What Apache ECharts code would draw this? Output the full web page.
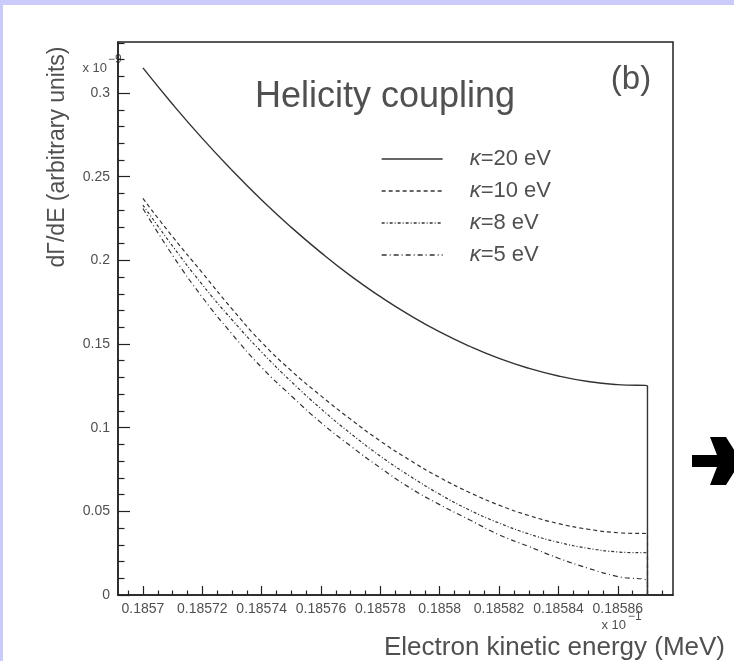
<!DOCTYPE html>
<html>
<head>
<meta charset="utf-8">
<script src="https://cdn.jsdelivr.net/npm/echarts@6/dist/echarts.min.js"></script>
<style>
  html, body { margin: 0; padding: 0; background: #ffffff; }
  #chart { width: 734px; height: 661px; }
</style>
</head>
<body>
<div id="chart"></div>
<script>
// Electron kinetic energy (MeV, shown in units of 10^-1)
const energy = [0.18570, 0.18571, 0.18572, 0.18573, 0.18574, 0.18575, 0.18576, 0.18577, 0.18578,
                0.18579, 0.18580, 0.18581, 0.18582, 0.18583, 0.18584, 0.18585, 0.18586, 0.18587];

// dΓ/dE (arbitrary units, x 10^-9) for each coupling strength κ
const kappa20 = [0.315, 0.2933, 0.2729, 0.2539, 0.2361, 0.2197, 0.2046, 0.1907, 0.1783,
                 0.1671, 0.1572, 0.1487, 0.1414, 0.1355, 0.1309, 0.1276, 0.1257, 0.125];
const kappa10 = [0.237, 0.2141, 0.1926, 0.171, 0.151, 0.134, 0.119, 0.105, 0.0920,
                 0.0805, 0.0702, 0.0613, 0.0537, 0.0475, 0.0427, 0.0393, 0.0372, 0.0365];
const kappa8  = [0.233, 0.2085, 0.1855, 0.1645, 0.1452, 0.1275, 0.1113, 0.0965, 0.0830,
                 0.0710, 0.0602, 0.0508, 0.0430, 0.0365, 0.0315, 0.0279, 0.0257, 0.025];
const kappa5  = [0.231, 0.203, 0.178, 0.156, 0.136, 0.119, 0.103, 0.089, 0.076,
                 0.064, 0.054, 0.045, 0.036, 0.029, 0.022, 0.016, 0.011, 0.0078];

const seriesNames = ['κ=20 eV', 'κ=10 eV', 'κ=8 eV', 'κ=5 eV'];

// Axis tick labels
const xTickLabels = ['0.1857', '0.18572', '0.18574', '0.18576', '0.18578',
                     '0.1858', '0.18582', '0.18584', '0.18586'];
const yTickLabels = ['0', '0.05', '0.1', '0.15', '0.2', '0.25', '0.3'];

const X_MIN = 0.1856916, X_MAX = 0.1858786;
const Y_MIN = 0, Y_MAX = 0.3305;

const FONT = 'Liberation Sans, Helvetica, Arial, sans-serif';
const TEXT = '#505050';
const INK = '#222222';

const xMajor = xTickLabels.map(Number);
const yMajor = yTickLabels.map(Number);

// minor ticks: 4 subdivisions on x, 5 on y, across the whole axis range
function minorTicks(major, parts, lo, hi) {
  const step = (major[1] - major[0]) / parts;
  const out = [];
  for (let i = -parts * 2; i <= major.length * parts + parts * 2; i++) {
    const v = major[0] + i * step;
    if (v < lo - 1e-12 || v > hi + 1e-12) continue;
    if (i % parts === 0) continue;
    out.push(+v.toFixed(9));
  }
  return out;
}
const xMinor = minorTicks(xMajor, 4, X_MIN, X_MAX);
const yMinor = minorTicks(yMajor, 5, Y_MIN, Y_MAX);

function labelFor(values, labels) {
  return function (v) {
    let best = 0;
    for (let i = 1; i < values.length; i++) {
      if (Math.abs(values[i] - v) < Math.abs(values[best] - v)) best = i;
    }
    return Math.abs(values[best] - v) < 1e-9 ? labels[best] : '';
  };
}

// each curve ends with a drop to zero at the endpoint energy
function curve(vals) {
  const pts = energy.map((e, i) => [e, vals[i]]);
  pts.push([energy[energy.length - 1], 0]);
  return pts;
}

const lineStyles = [
  { color: '#333333', width: 1.4, type: 'solid' },
  { color: '#333333', width: 1.2, type: [4, 3] },
  { color: '#333333', width: 1.2, type: [3, 2, 1, 2] },
  { color: '#333333', width: 1.2, type: [5, 3, 1, 3] }
];
const curves = [kappa20, kappa10, kappa8, kappa5];

const chart = echarts.init(document.getElementById('chart'), null, { renderer: 'canvas' });

const tickStyle = { color: INK, width: 1.2 };

chart.setOption({
  animation: false,
  backgroundColor: '#ffffff',
  grid: {
    left: 118, top: 42, width: 555, height: 553,
    show: true, borderColor: INK, borderWidth: 1.5, backgroundColor: 'transparent'
  },
  xAxis: [
    {
      type: 'value', min: X_MIN, max: X_MAX, position: 'bottom',
      axisLine: { show: true, lineStyle: { color: INK, width: 1.5 } },
      axisTick: { show: true, inside: true, length: 9, customValues: xMajor, lineStyle: tickStyle },
      axisLabel: {
        show: true, customValues: xMajor, margin: 7,
        formatter: labelFor(xMajor, xTickLabels),
        color: TEXT, fontSize: 14, fontFamily: FONT
      },
      splitLine: { show: false }
    },
    {
      type: 'value', min: X_MIN, max: X_MAX, position: 'bottom', offset: 0,
      axisLine: { show: false },
      axisTick: { show: true, inside: true, length: 4.5, customValues: xMinor, lineStyle: tickStyle },
      axisLabel: { show: false },
      splitLine: { show: false }
    }
  ],
  yAxis: [
    {
      type: 'value', min: Y_MIN, max: Y_MAX, position: 'left',
      axisLine: { show: true, lineStyle: { color: INK, width: 1.5 } },
      axisTick: { show: true, inside: true, length: 12, customValues: yMajor, lineStyle: tickStyle },
      axisLabel: {
        show: true, customValues: yMajor, margin: 8,
        formatter: labelFor(yMajor, yTickLabels),
        color: TEXT, fontSize: 14, fontFamily: FONT
      },
      splitLine: { show: false }
    },
    {
      type: 'value', min: Y_MIN, max: Y_MAX, position: 'left', offset: 0,
      axisLine: { show: false },
      axisTick: { show: true, inside: true, length: 6.5, customValues: yMinor, lineStyle: tickStyle },
      axisLabel: { show: false },
      splitLine: { show: false }
    }
  ],
  legend: {
    orient: 'vertical',
    left: 381, top: 147, padding: 0,
    itemWidth: 61, itemHeight: 14, itemGap: 8,
    data: seriesNames,
    selectedMode: false,
    lineStyle: { width: 1.3 },
    itemStyle: { color: 'rgba(0,0,0,0)', borderColor: 'rgba(0,0,0,0)', borderWidth: 0 },
    formatter: name => name.replace('κ', '{k|κ}'),
    textStyle: {
      color: TEXT, fontSize: 22, fontFamily: FONT, lineHeight: 24,
      padding: [0, 0, 0, 22],
      rich: { k: { fontStyle: 'italic', fontSize: 22, color: TEXT, fontFamily: FONT } }
    }
  },
  series: curves.map((vals, i) => ({
    name: seriesNames[i],
    type: 'line',
    xAxisIndex: 0, yAxisIndex: 0,
    data: curve(vals),
    smooth: true,
    showSymbol: false, symbol: 'none',
    lineStyle: lineStyles[i],
    itemStyle: { color: '#333333' },
    emphasis: { disabled: true }
  })),
  graphic: [
    // slide border
    { type: 'rect', left: 0, top: 0, shape: { width: 734, height: 5 }, style: { fill: '#cbcbfb' }, silent: true },
    { type: 'rect', left: 0, top: 0, shape: { width: 3, height: 661 }, style: { fill: '#cbcbfb' }, silent: true },
    // panel title and tag
    { type: 'text', x: 385, y: 97, silent: true,
      style: { text: 'Helicity coupling', fill: TEXT, font: '36px ' + FONT, textAlign: 'center', textVerticalAlign: 'middle' } },
    { type: 'text', x: 631, y: 80, silent: true,
      style: { text: '(b)', fill: TEXT, font: '33px ' + FONT, textAlign: 'center', textVerticalAlign: 'middle' } },
    // axis titles
    { type: 'text', x: 58, y: 157, rotation: Math.PI / 2, silent: true,
      style: { text: 'dΓ/dE (arbitrary units)', fill: TEXT, font: '23px ' + FONT, textAlign: 'center', textVerticalAlign: 'middle' } },
    { type: 'text', x: 725, y: 648, silent: true,
      style: { text: 'Electron kinetic energy (MeV)', fill: TEXT, font: '26px ' + FONT, textAlign: 'right', textVerticalAlign: 'middle' } },
    // axis multipliers
    { type: 'text', x: 107, y: 68, silent: true,
      style: { text: 'x 10', fill: TEXT, font: '13px ' + FONT, textAlign: 'right', textVerticalAlign: 'middle' } },
    { type: 'text', x: 108, y: 60, silent: true,
      style: { text: '−9', fill: TEXT, font: '12px ' + FONT, textAlign: 'left', textVerticalAlign: 'middle' } },
    { type: 'text', x: 626, y: 625, silent: true,
      style: { text: 'x 10', fill: TEXT, font: '13px ' + FONT, textAlign: 'right', textVerticalAlign: 'middle' } },
    { type: 'text', x: 628, y: 617, silent: true,
      style: { text: '−1', fill: TEXT, font: '12px ' + FONT, textAlign: 'left', textVerticalAlign: 'middle' } },
    // slide arrow
    { type: 'polygon', silent: true,
      shape: { points: [[692, 455], [717, 455], [710, 437], [726, 437], [741, 461], [726, 485], [710, 485], [717, 467], [692, 467]] },
      style: { fill: '#000000' } }
  ]
});
</script>
</body>
</html>
